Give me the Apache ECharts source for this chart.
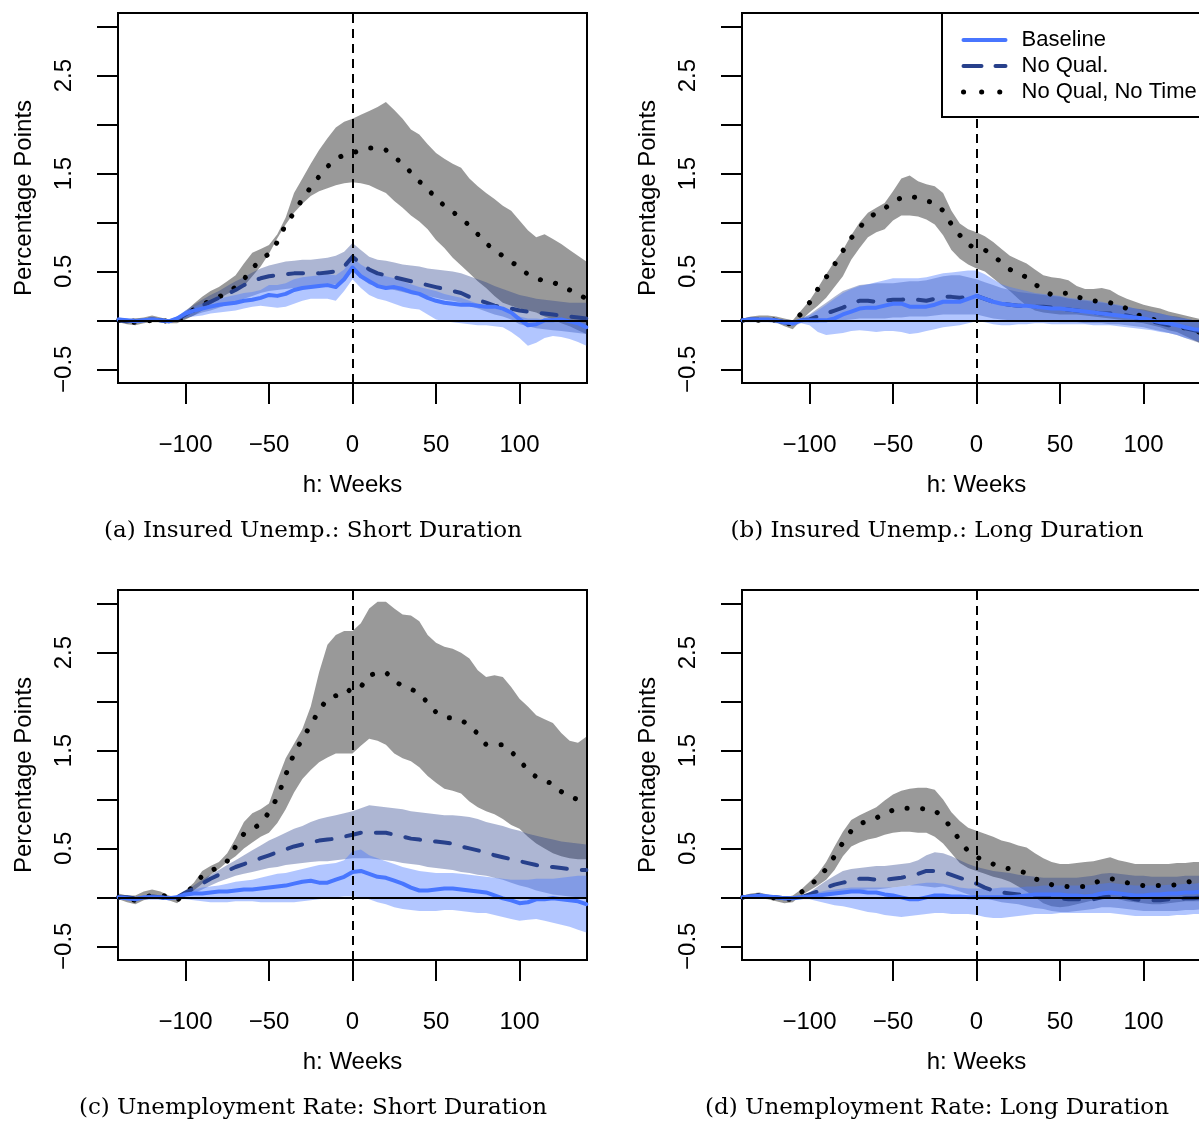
<!DOCTYPE html>
<html>
<head>
<meta charset="utf-8">
<script src="https://cdn.jsdelivr.net/npm/echarts@6/dist/echarts.min.js"></script>
<style>
html,body{margin:0;padding:0;background:#fff;}
#chart{width:1199px;height:1123px;}
</style>
</head>
<body>
<div id="chart"></div>
<script>
// ---------- DATA ----------
const weeks = [-140,-135,-130,-125,-120,-115,-110,-105,-100,-95,-90,-85,-80,-75,-70,-65,-60,-55,-50,-45,-40,-35,-30,-25,-20,-15,-10,-5,0,5,10,15,20,25,30,35,40,45,50,55,60,65,70,75,80,85,90,95,100,105,110,115,120,125,130,135,140];
const xTicks = [-100,-50,0,50,100];
const yTicks = [-0.5,0,0.5,1,1.5,2,2.5,3];
const yLabels = [-0.5,0.5,1.5,2.5];
const seriesNames = ['Baseline','No Qual.','No Qual, No Time'];
const captions = ['(a) Insured Unemp.: Short Duration','(b) Insured Unemp.: Long Duration','(c) Unemployment Rate: Short Duration','(d) Unemployment Rate: Long Duration'];

// Panel (a)
const aBase = [0.01,0.00,-0.01,0.00,0.01,0.00,-0.01,0.02, 0.07,0.10,0.12,0.14,0.16,0.17,0.18,0.20, 0.21,0.23,0.26,0.25,0.27,0.31,0.33,0.34, 0.35,0.36,0.34,0.42,0.54,0.45,0.40,0.35, 0.33,0.34,0.32,0.29,0.27,0.23,0.20,0.18, 0.17,0.16,0.16,0.15,0.14,0.14,0.12,0.08, 0.01,-0.05,-0.04,0.00,0.00,0.01,-0.01,-0.03, -0.07];
const aBaseLo = [-0.02,-0.02,-0.03,-0.02,-0.01,-0.02,-0.03,-0.01, 0.03,0.04,0.05,0.07,0.08,0.09,0.10,0.12, 0.14,0.15,0.14,0.13,0.14,0.17,0.20,0.22, 0.22,0.22,0.20,0.30,0.42,0.33,0.26,0.22, 0.20,0.17,0.14,0.12,0.11,0.06,0.01,-0.01, -0.02,-0.03,-0.04,-0.05,-0.05,-0.06,-0.07,-0.12, -0.18,-0.26,-0.23,-0.18,-0.16,-0.17,-0.19,-0.22, -0.26];
const aBaseHi = [0.03,0.02,0.01,0.02,0.03,0.02,0.01,0.04, 0.10,0.14,0.17,0.20,0.22,0.24,0.26,0.28, 0.29,0.31,0.36,0.36,0.38,0.42,0.44,0.45, 0.46,0.47,0.46,0.52,0.64,0.57,0.52,0.48, 0.45,0.43,0.40,0.37,0.34,0.32,0.30,0.27, 0.25,0.23,0.20,0.17,0.15,0.12,0.10,0.07, 0.04,0.02,0.02,0.01,0.01,0.00,-0.01,-0.02, -0.03];
const aNoQual = [0.00,-0.01,0.00,0.00,0.01,0.00,-0.01,0.01, 0.06,0.11,0.15,0.19,0.23,0.27,0.31,0.36, 0.40,0.43,0.45,0.46,0.47,0.48,0.48,0.48, 0.48,0.49,0.50,0.55,0.65,0.58,0.52,0.48, 0.46,0.44,0.42,0.40,0.38,0.36,0.34,0.32, 0.30,0.28,0.24,0.21,0.18,0.15,0.13,0.12, 0.10,0.09,0.08,0.07,0.06,0.05,0.04,0.03, 0.02];
const aNoQualLo = [-0.02,-0.03,-0.02,-0.02,-0.01,-0.02,-0.03,-0.01, 0.02,0.05,0.08,0.10,0.13,0.16,0.19,0.22, 0.25,0.28,0.30,0.31,0.32,0.33,0.34,0.35, 0.35,0.36,0.37,0.42,0.50,0.43,0.37,0.35, 0.33,0.31,0.29,0.27,0.26,0.25,0.23,0.21, 0.20,0.18,0.15,0.12,0.09,0.06,0.04,0.01, -0.04,-0.06,-0.08,-0.09,-0.10,-0.11,-0.12,-0.13, -0.14];
const aNoQualHi = [0.02,0.01,0.02,0.02,0.03,0.02,0.01,0.03, 0.10,0.16,0.21,0.26,0.30,0.35,0.40,0.44, 0.49,0.53,0.56,0.58,0.60,0.61,0.62,0.62, 0.63,0.64,0.66,0.70,0.79,0.72,0.65,0.62, 0.61,0.59,0.57,0.56,0.55,0.53,0.52,0.51, 0.50,0.48,0.45,0.42,0.39,0.35,0.32,0.29, 0.26,0.24,0.22,0.21,0.20,0.19,0.18,0.18, 0.18];
const aNoTime = [0.00,-0.01,-0.02,-0.01,0.00,0.00,-0.01,-0.01, 0.05,0.11,0.16,0.20,0.24,0.28,0.34,0.42, 0.53,0.62,0.68,0.80,0.98,1.10,1.24,1.36, 1.47,1.57,1.65,1.69,1.71,1.74,1.76,1.76, 1.74,1.67,1.60,1.51,1.42,1.34,1.25,1.17, 1.11,1.04,0.97,0.88,0.79,0.71,0.66,0.60, 0.54,0.47,0.43,0.40,0.39,0.35,0.31,0.27, 0.22];
const aNoTimeLo = [-0.02,-0.04,-0.05,-0.03,-0.02,-0.02,-0.03,-0.03, 0.01,0.05,0.10,0.16,0.22,0.27,0.31,0.35, 0.45,0.55,0.68,0.84,0.98,1.10,1.19,1.27, 1.32,1.35,1.38,1.40,1.41,1.40,1.38,1.34, 1.30,1.22,1.15,1.07,1.01,0.93,0.82,0.74, 0.64,0.56,0.48,0.40,0.33,0.25,0.18,0.15, 0.12,0.10,0.08,0.04,0.01,-0.03,-0.06,-0.10, -0.14];
const aNoTimeHi = [0.02,0.01,0.02,0.03,0.05,0.03,0.01,0.01, 0.09,0.17,0.24,0.30,0.34,0.40,0.46,0.58, 0.69,0.73,0.77,0.88,1.05,1.30,1.45,1.60, 1.74,1.86,1.97,2.03,2.06,2.10,2.14,2.18, 2.23,2.15,2.06,1.95,1.90,1.80,1.71,1.65, 1.60,1.56,1.45,1.37,1.30,1.24,1.17,1.12, 1.02,0.92,0.85,0.88,0.83,0.78,0.72,0.66, 0.60];

// Panel (b)
const bBase = [0.00,0.01,0.01,0.01,0.00,-0.02,-0.03,0.00, 0.00,0.00,0.00,0.02,0.06,0.09,0.12,0.13, 0.13,0.15,0.17,0.17,0.14,0.14,0.14,0.16, 0.19,0.19,0.19,0.22,0.25,0.22,0.19,0.17, 0.16,0.15,0.15,0.14,0.13,0.12,0.12,0.11, 0.10,0.09,0.08,0.07,0.06,0.05,0.04,0.03, 0.02,0.00,-0.02,-0.03,-0.05,-0.07,-0.09,-0.10, -0.12];
const bBaseLo = [-0.02,-0.02,-0.02,-0.02,-0.03,-0.05,-0.06,-0.03, -0.05,-0.12,-0.15,-0.14,-0.13,-0.11,-0.10,-0.11, -0.12,-0.11,-0.11,-0.12,-0.14,-0.13,-0.11,-0.09, -0.07,-0.06,-0.05,-0.03,-0.01,-0.02,-0.04,-0.05, -0.05,-0.04,-0.04,-0.03,-0.03,-0.04,-0.04,-0.04, -0.04,-0.04,-0.05,-0.05,-0.05,-0.06,-0.07,-0.08, -0.09,-0.10,-0.12,-0.13,-0.15,-0.18,-0.20,-0.22, -0.25];
const bBaseHi = [0.02,0.03,0.03,0.03,0.02,0.01,0.00,0.02, 0.05,0.10,0.16,0.22,0.28,0.32,0.35,0.37, 0.39,0.41,0.43,0.43,0.43,0.43,0.44,0.46, 0.48,0.49,0.50,0.51,0.51,0.47,0.42,0.37, 0.34,0.32,0.30,0.28,0.27,0.26,0.25,0.23, 0.22,0.21,0.20,0.19,0.17,0.16,0.14,0.12, 0.10,0.08,0.07,0.05,0.03,0.02,0.00,-0.01, -0.03];
const bNoQual = [0.00,0.01,0.01,0.01,0.00,-0.02,-0.03,0.00, 0.01,0.04,0.07,0.10,0.13,0.17,0.20,0.20, 0.19,0.20,0.21,0.21,0.22,0.21,0.20,0.22, 0.24,0.24,0.23,0.24,0.25,0.22,0.19,0.17, 0.16,0.15,0.15,0.14,0.14,0.13,0.12,0.11, 0.10,0.09,0.08,0.07,0.07,0.06,0.05,0.03, 0.01,-0.01,-0.03,-0.05,-0.06,-0.08,-0.10,-0.12, -0.14];
const bNoQualLo = [-0.01,0.00,0.00,0.00,-0.01,-0.03,-0.04,-0.01, -0.02,-0.02,-0.01,0.00,0.00,0.01,0.02,0.02, 0.02,0.02,0.03,0.03,0.04,0.04,0.04,0.05, 0.06,0.06,0.06,0.06,0.06,0.04,0.02,0.01, 0.00,0.00,0.00,-0.01,-0.01,-0.01,-0.02,-0.02, -0.02,-0.03,-0.03,-0.03,-0.04,-0.04,-0.05,-0.06, -0.07,-0.09,-0.11,-0.13,-0.15,-0.18,-0.21,-0.24, -0.27];
const bNoQualHi = [0.01,0.02,0.02,0.02,0.01,0.00,-0.01,0.02, 0.06,0.12,0.18,0.24,0.30,0.33,0.36,0.37, 0.38,0.38,0.38,0.39,0.40,0.40,0.41,0.43, 0.45,0.46,0.46,0.44,0.42,0.39,0.36,0.33, 0.31,0.29,0.28,0.27,0.26,0.25,0.24,0.22, 0.21,0.20,0.19,0.18,0.17,0.15,0.14,0.12, 0.11,0.09,0.07,0.05,0.04,0.02,0.00,-0.01, -0.02];
const bNoTime = [0.00,0.00,0.00,0.01,0.00,-0.03,-0.04,0.07, 0.18,0.32,0.44,0.57,0.71,0.84,0.95,1.04, 1.10,1.14,1.22,1.25,1.27,1.25,1.22,1.20, 1.12,0.98,0.87,0.77,0.74,0.72,0.66,0.59, 0.52,0.48,0.44,0.37,0.31,0.26,0.27,0.28, 0.24,0.22,0.20,0.19,0.18,0.16,0.12,0.07, 0.03,0.01,0.00,-0.03,-0.05,-0.08,-0.10,-0.13, -0.16];
const bNoTimeLo = [-0.02,-0.01,-0.01,-0.01,-0.02,-0.06,-0.09,0.00, 0.08,0.15,0.23,0.34,0.45,0.62,0.74,0.85, 0.90,0.93,1.02,1.07,1.07,1.06,1.03,0.98, 0.87,0.72,0.63,0.57,0.53,0.50,0.43,0.36, 0.30,0.22,0.15,0.10,0.08,0.07,0.06,0.06, 0.06,0.05,0.04,0.03,0.02,0.01,0.00,-0.02, -0.03,-0.05,-0.07,-0.10,-0.12,-0.16,-0.20,-0.24, -0.28];
const bNoTimeHi = [0.02,0.04,0.05,0.05,0.04,0.02,0.00,0.10, 0.20,0.33,0.47,0.60,0.72,0.87,1.00,1.10, 1.15,1.20,1.32,1.45,1.48,1.42,1.39,1.37, 1.30,1.12,0.99,0.93,0.90,0.86,0.80,0.73, 0.66,0.62,0.58,0.52,0.46,0.44,0.43,0.41, 0.35,0.32,0.32,0.33,0.31,0.26,0.22,0.19, 0.16,0.14,0.12,0.09,0.07,0.05,0.03,0.01, -0.01];

// Panel (c)
const cBase = [0.00,-0.01,-0.02,0.00,0.00,0.00,-0.01,0.00, 0.03,0.04,0.04,0.05,0.06,0.06,0.07,0.08, 0.08,0.09,0.10,0.11,0.12,0.14,0.16,0.17, 0.15,0.15,0.18,0.21,0.26,0.27,0.24,0.21, 0.20,0.17,0.14,0.10,0.07,0.07,0.08,0.09, 0.09,0.08,0.07,0.06,0.05,0.02,-0.01,-0.03, -0.06,-0.05,-0.02,-0.02,-0.01,-0.02,-0.03,-0.04, -0.07];
const cBaseLo = [-0.02,-0.03,-0.04,-0.02,-0.02,-0.02,-0.03,-0.02, -0.02,-0.03,-0.04,-0.05,-0.05,-0.05,-0.04,-0.04, -0.04,-0.05,-0.05,-0.05,-0.05,-0.05,-0.04,-0.03, -0.02,-0.01,0.00,0.01,0.01,0.00,-0.02,-0.05, -0.07,-0.10,-0.12,-0.13,-0.14,-0.14,-0.14,-0.13, -0.13,-0.14,-0.15,-0.16,-0.16,-0.18,-0.20,-0.22, -0.24,-0.23,-0.22,-0.24,-0.26,-0.28,-0.30,-0.33, -0.36];
const cBaseHi = [0.02,0.02,0.01,0.02,0.02,0.02,0.01,0.02, 0.05,0.08,0.10,0.11,0.12,0.14,0.16,0.17, 0.18,0.20,0.22,0.24,0.25,0.27,0.29,0.31, 0.33,0.34,0.35,0.38,0.47,0.49,0.43,0.40, 0.37,0.34,0.31,0.29,0.27,0.26,0.25,0.25, 0.25,0.24,0.23,0.22,0.21,0.20,0.19,0.18, 0.18,0.18,0.19,0.19,0.19,0.20,0.21,0.22, 0.22];
const cNoQual = [0.00,0.00,-0.01,0.00,0.01,0.00,-0.01,0.00, 0.05,0.09,0.14,0.19,0.23,0.27,0.31,0.34, 0.37,0.40,0.43,0.46,0.49,0.52,0.54,0.56, 0.58,0.59,0.60,0.62,0.64,0.66,0.66,0.66, 0.66,0.64,0.62,0.60,0.59,0.58,0.57,0.56, 0.55,0.52,0.50,0.48,0.46,0.43,0.41,0.39, 0.37,0.35,0.33,0.32,0.31,0.30,0.29,0.28, 0.28];
const cNoQualLo = [-0.01,-0.01,-0.02,-0.01,0.00,-0.01,-0.02,-0.01, 0.01,0.04,0.08,0.12,0.16,0.19,0.22,0.24, 0.26,0.28,0.30,0.31,0.33,0.34,0.35,0.36, 0.37,0.37,0.38,0.39,0.40,0.40,0.40,0.39, 0.38,0.37,0.35,0.34,0.33,0.31,0.30,0.29, 0.28,0.26,0.25,0.23,0.22,0.20,0.18,0.15, 0.12,0.10,0.07,0.05,0.03,0.02,0.01,0.00, 0.00];
const cNoQualHi = [0.01,0.01,0.00,0.01,0.02,0.01,0.00,0.01, 0.06,0.12,0.18,0.23,0.28,0.33,0.38,0.43, 0.48,0.53,0.58,0.62,0.66,0.70,0.73,0.77, 0.80,0.82,0.84,0.86,0.88,0.91,0.94,0.93, 0.92,0.91,0.90,0.88,0.87,0.86,0.85,0.84, 0.84,0.83,0.82,0.80,0.77,0.75,0.73,0.70, 0.68,0.65,0.63,0.61,0.59,0.57,0.56,0.55, 0.54];
const cNoTime = [0.00,-0.02,-0.03,0.00,0.02,0.03,0.00,-0.03, 0.04,0.12,0.22,0.27,0.31,0.37,0.52,0.65, 0.70,0.75,0.87,1.02,1.25,1.47,1.62,1.76, 1.91,2.03,2.06,2.06,2.15,2.15,2.27,2.29, 2.30,2.21,2.16,2.13,2.08,1.99,1.89,1.84, 1.83,1.81,1.76,1.67,1.56,1.56,1.56,1.49, 1.40,1.30,1.23,1.19,1.16,1.08,1.03,1.00, 0.97];
const cNoTimeLo = [-0.02,-0.05,-0.07,-0.03,-0.01,0.00,-0.03,-0.06, 0.02,0.07,0.14,0.23,0.29,0.36,0.42,0.50, 0.56,0.62,0.66,0.76,0.90,1.07,1.21,1.30, 1.38,1.43,1.47,1.47,1.47,1.55,1.62,1.60, 1.56,1.47,1.42,1.39,1.33,1.24,1.17,1.11, 1.09,1.06,0.98,0.92,0.88,0.85,0.80,0.74, 0.70,0.62,0.55,0.50,0.45,0.42,0.40,0.39, 0.39];
const cNoTimeHi = [0.04,0.02,0.02,0.06,0.08,0.06,0.02,0.00, 0.07,0.15,0.27,0.32,0.36,0.45,0.60,0.77, 0.86,0.90,0.96,1.20,1.42,1.57,1.72,1.95, 2.30,2.58,2.68,2.72,2.72,2.80,2.95,3.02, 3.02,2.95,2.89,2.88,2.82,2.68,2.60,2.56, 2.54,2.50,2.44,2.32,2.25,2.27,2.25,2.15, 2.03,1.95,1.86,1.82,1.78,1.68,1.60,1.58, 1.64];

// Panel (d)
const dBase = [0.00,0.01,0.02,0.01,0.00,-0.01,-0.01,0.00, 0.01,0.02,0.03,0.04,0.05,0.06,0.06,0.05, 0.05,0.03,0.02,0.00,-0.02,-0.02,0.00,0.02, 0.02,0.01,0.01,0.00,0.00,0.00,0.00,0.00, 0.00,0.01,0.02,0.03,0.03,0.03,0.03,0.02, 0.02,0.01,0.02,0.04,0.05,0.04,0.03,0.02, 0.02,0.03,0.03,0.04,0.04,0.05,0.05,0.06, 0.06];
const dBaseLo = [-0.02,-0.01,0.00,-0.01,-0.02,-0.03,-0.03,-0.02, -0.02,-0.04,-0.06,-0.08,-0.09,-0.11,-0.13,-0.15, -0.16,-0.18,-0.19,-0.20,-0.19,-0.18,-0.17,-0.16, -0.16,-0.17,-0.17,-0.17,-0.18,-0.20,-0.21,-0.21, -0.20,-0.19,-0.18,-0.17,-0.17,-0.17,-0.16,-0.16, -0.16,-0.16,-0.16,-0.16,-0.16,-0.17,-0.18,-0.19, -0.19,-0.19,-0.19,-0.19,-0.18,-0.18,-0.17,-0.17, -0.17];
const dBaseHi = [0.02,0.03,0.04,0.03,0.02,0.01,0.01,0.02, 0.03,0.05,0.07,0.08,0.09,0.10,0.10,0.10, 0.10,0.10,0.10,0.11,0.12,0.14,0.15,0.15, 0.14,0.12,0.10,0.09,0.09,0.09,0.09,0.10, 0.10,0.10,0.11,0.11,0.12,0.12,0.12,0.12, 0.12,0.12,0.13,0.14,0.15,0.14,0.13,0.12, 0.12,0.12,0.12,0.13,0.13,0.14,0.14,0.15, 0.15];
const dNoQual = [0.00,0.01,0.02,0.01,0.00,-0.01,-0.01,0.00, 0.03,0.06,0.10,0.13,0.15,0.17,0.19,0.19, 0.18,0.18,0.19,0.20,0.22,0.24,0.27,0.27, 0.26,0.23,0.20,0.17,0.14,0.10,0.07,0.05, 0.04,0.03,0.03,0.02,0.01,0.00,-0.01,-0.02, -0.02,-0.02,-0.02,0.00,0.01,0.01,0.00,-0.02, -0.03,-0.03,-0.03,-0.02,-0.02,-0.01,-0.01,0.00, 0.00];
const dNoQualLo = [-0.01,0.00,0.01,0.00,-0.01,-0.02,-0.02,-0.01, 0.00,0.02,0.03,0.04,0.05,0.06,0.07,0.08, 0.08,0.09,0.10,0.11,0.12,0.12,0.11,0.10, 0.11,0.09,0.06,0.03,0.01,-0.01,-0.03,-0.05, -0.06,-0.07,-0.09,-0.11,-0.12,-0.14,-0.15,-0.15, -0.14,-0.13,-0.12,-0.10,-0.10,-0.11,-0.12,-0.13, -0.14,-0.14,-0.14,-0.14,-0.14,-0.13,-0.13,-0.12, -0.12];
const dNoQualHi = [0.01,0.02,0.03,0.02,0.01,0.00,0.00,0.01, 0.05,0.11,0.17,0.22,0.27,0.29,0.30,0.31, 0.32,0.32,0.33,0.34,0.35,0.38,0.43,0.46, 0.45,0.42,0.38,0.34,0.31,0.29,0.27,0.26, 0.25,0.23,0.22,0.21,0.20,0.20,0.20,0.20, 0.20,0.21,0.22,0.24,0.25,0.24,0.23,0.22, 0.22,0.21,0.21,0.21,0.21,0.22,0.22,0.22, 0.22];
const dNoTime = [0.00,0.01,0.02,0.01,-0.01,-0.02,-0.02,0.05, 0.12,0.19,0.29,0.42,0.56,0.68,0.75,0.78, 0.81,0.86,0.89,0.91,0.91,0.91,0.90,0.89, 0.81,0.71,0.58,0.47,0.41,0.38,0.34,0.31, 0.29,0.27,0.25,0.19,0.16,0.13,0.12,0.11, 0.11,0.11,0.14,0.18,0.19,0.18,0.15,0.13, 0.12,0.12,0.12,0.12,0.13,0.15,0.17,0.18, 0.18];
const dNoTimeLo = [-0.02,-0.01,-0.01,-0.02,-0.04,-0.06,-0.05,0.02, 0.07,0.12,0.18,0.28,0.42,0.52,0.56,0.59, 0.61,0.64,0.66,0.67,0.67,0.66,0.66,0.62, 0.55,0.45,0.35,0.30,0.27,0.24,0.21,0.19, 0.16,0.11,0.06,0.00,-0.06,-0.09,-0.10,-0.09, -0.07,-0.05,-0.03,0.00,0.01,-0.02,-0.04,-0.05, -0.06,-0.07,-0.07,-0.06,-0.05,-0.04,-0.04,-0.04, -0.04];
const dNoTimeHi = [0.02,0.04,0.05,0.03,0.01,0.00,0.02,0.08, 0.16,0.24,0.36,0.52,0.67,0.79,0.84,0.88, 0.92,0.99,1.05,1.09,1.11,1.12,1.12,1.10, 1.00,0.87,0.78,0.71,0.68,0.65,0.62,0.58, 0.56,0.53,0.51,0.45,0.40,0.36,0.34,0.34, 0.35,0.36,0.37,0.39,0.41,0.38,0.36,0.34, 0.34,0.34,0.34,0.34,0.35,0.35,0.36,0.36, 0.36];

// ---------- LAYOUT / STYLE ----------
const panelData = [
  {base:aBase, baseLo:aBaseLo, baseHi:aBaseHi, nq:aNoQual, nqLo:aNoQualLo, nqHi:aNoQualHi, nt:aNoTime, ntLo:aNoTimeLo, ntHi:aNoTimeHi},
  {base:bBase, baseLo:bBaseLo, baseHi:bBaseHi, nq:bNoQual, nqLo:bNoQualLo, nqHi:bNoQualHi, nt:bNoTime, ntLo:bNoTimeLo, ntHi:bNoTimeHi},
  {base:cBase, baseLo:cBaseLo, baseHi:cBaseHi, nq:cNoQual, nqLo:cNoQualLo, nqHi:cNoQualHi, nt:cNoTime, ntLo:cNoTimeLo, ntHi:cNoTimeHi},
  {base:dBase, baseLo:dBaseLo, baseHi:dBaseHi, nq:dNoQual, nqLo:dNoQualLo, nqHi:dNoQualHi, nt:dNoTime, ntLo:dNoTimeLo, ntHi:dNoTimeHi}
];
const layout = [
  {left:118, top:13, capX:313, capY:531},
  {left:742, top:13, capX:937, capY:531},
  {left:118, top:590, capX:313, capY:1108},
  {left:742, top:590, capX:937, capY:1108}
];
const BOX_W = 469, BOX_H = 370;
const SANS = 'Liberation Sans, Arial, Helvetica, sans-serif';
const SERIF = '"DejaVu Serif", serif';
const COL_BASE = '#4876FF', COL_NQ = '#27408B', COL_NT = '#000000';
const BAND_BASE = 'rgba(72,118,255,0.42)', BAND_NQ = 'rgba(39,64,139,0.38)', BAND_NT = 'rgba(0,0,0,0.40)';
const DOT = [0.1, 15.5], DASH = [15, 15];

const fmt = v => String(v).replace('-', '\u2212');

function band(gi, lo, hi, color) {
  return {
    type: 'custom', xAxisIndex: gi, yAxisIndex: gi, silent: true, clip: true, z: 2,
    data: [[0, 0]],
    renderItem: function (params, api) {
      const pts = [];
      for (let i = 0; i < weeks.length; i++) pts.push(api.coord([weeks[i], hi[i]]));
      for (let i = weeks.length - 1; i >= 0; i--) pts.push(api.coord([weeks[i], lo[i]]));
      return {type: 'polygon', shape: {points: pts}, style: {fill: color, stroke: null}};
    }
  };
}
function line(gi, name, vals, color, type, width) {
  return {
    type: 'line', name: name, xAxisIndex: gi, yAxisIndex: gi,
    data: weeks.map((w, i) => [w, vals[i]]),
    symbol: 'none', silent: true, z: 4,
    itemStyle: {color: color},
    lineStyle: {color: color, width: width, type: type, cap: 'round', join: 'round'}
  };
}

const grids = [], xAxes = [], yAxes = [], series = [], graphics = [];
layout.forEach((L, gi) => {
  const P = panelData[gi];
  grids.push({left: L.left, top: L.top, width: BOX_W, height: BOX_H, show: true,
    borderColor: '#000', borderWidth: 2, backgroundColor: 'transparent', containLabel: false,
    outerBoundsMode: 'none'});
  xAxes.push({
    type: 'value', gridIndex: gi, min: -140.4, max: 140.4,
    axisLine: {show: false, onZero: false}, splitLine: {show: false},
    axisTick: {show: true, inside: false, length: 21, customValues: xTicks, lineStyle: {color: '#000', width: 2}},
    axisLabel: {show: true, customValues: xTicks, margin: 50, fontSize: 24, color: '#000', fontFamily: SANS, formatter: fmt},
    name: 'h: Weeks', nameLocation: 'middle', nameGap: 90,
    nameTextStyle: {fontSize: 24, color: '#000', fontFamily: SANS}
  });
  yAxes.push({
    type: 'value', gridIndex: gi, min: -0.64, max: 3.14,
    axisLine: {show: false, onZero: false}, splitLine: {show: false},
    axisTick: {show: true, inside: false, length: 21, customValues: yTicks, lineStyle: {color: '#000', width: 2}},
    axisLabel: {show: true, customValues: yLabels, rotate: 90, margin: 42, fontSize: 24, color: '#000', fontFamily: SANS, formatter: fmt},
    name: 'Percentage Points', nameLocation: 'middle', nameGap: 82,
    nameTextStyle: {fontSize: 24, color: '#000', fontFamily: SANS}
  });
  series.push(band(gi, P.ntLo, P.ntHi, BAND_NT));
  series.push(band(gi, P.nqLo, P.nqHi, BAND_NQ));
  series.push(band(gi, P.baseLo, P.baseHi, BAND_BASE));
  series.push({
    type: 'line', xAxisIndex: gi, yAxisIndex: gi, data: [[0, 0]], symbol: 'none', silent: true, z: 3,
    lineStyle: {width: 0, opacity: 0},
    markLine: {
      silent: true, symbol: ['none', 'none'], label: {show: false}, animation: false,
      data: [
        {yAxis: 0, lineStyle: {type: 'solid', color: '#000', width: 2}},
        {xAxis: 0, lineStyle: {type: [9, 6], color: '#000', width: 2}}
      ]
    }
  });
  series.push(line(gi, seriesNames[2], P.nt, COL_NT, DOT, 5));
  series.push(line(gi, seriesNames[1], P.nq, COL_NQ, DASH, 4));
  series.push(line(gi, seriesNames[0], P.base, COL_BASE, 'solid', 4));
  graphics.push({
    type: 'text', x: L.capX, y: L.capY, silent: true,
    style: {text: captions[gi], fill: '#000', font: '23px ' + SERIF, textAlign: 'center', textVerticalAlign: 'middle'}
  });
});

const chart = echarts.init(document.getElementById('chart'), null, {renderer: 'canvas', width: 1199, height: 1123, devicePixelRatio: 1});
chart.setOption({
  animation: false,
  backgroundColor: '#fff',
  grid: grids, xAxis: xAxes, yAxis: yAxes, series: series,
  graphic: graphics,
  legend: {
    data: [
      {name: seriesNames[0], lineStyle: {width: 4, type: 'solid', color: COL_BASE, cap: 'round'}},
      {name: seriesNames[1], lineStyle: {width: 4, type: [18, 14], color: COL_NQ, cap: 'round'}},
      {name: seriesNames[2], lineStyle: {width: 5, type: [0.1, 18], color: COL_NT, cap: 'round'}}
    ],
    orient: 'vertical', left: 942, top: 13,
    itemWidth: 42, itemHeight: 14, itemGap: 4,
    padding: [16, 16, 14, 19],
    backgroundColor: '#fff', borderColor: '#000', borderWidth: 2, borderRadius: 0,
    selectedMode: false, z: 10,
    lineStyle: {width: 4},
    itemStyle: {color: 'rgba(0,0,0,0)', borderWidth: 0, opacity: 0},
    textStyle: {fontSize: 22, lineHeight: 22, color: '#000', fontFamily: SANS, padding: [0, 0, 0, 11]}
  }
});
</script>
</body>
</html>
